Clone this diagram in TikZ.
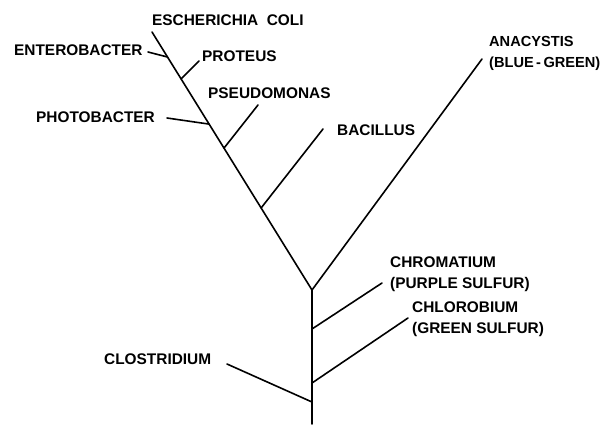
\documentclass[tikz,border=0pt]{standalone}
\usepackage{fontspec}
\setmainfont{Liberation Sans}
\usetikzlibrary{calc}
\begin{document}
\begin{tikzpicture}[x=1pt,y=-1pt,
  branch/.style={line width=1.6pt,line cap=round},
  lbl/.style={font=\bfseries\fontsize{15.4}{21}\selectfont,inner sep=0pt,anchor=west},
  lbl2/.style={font=\bfseries\fontsize{15.4}{21}\selectfont,inner sep=0pt,anchor=north west,align=left}]
\useasboundingbox (0,0) rectangle (611,426);
% skeleton
\coordinate (top) at (152,32);
\coordinate (fork) at (312,290);
\coordinate (root) at (312,424);
\coordinate (anaTip) at (482,59);
% junctions on left limb
\coordinate (jEnt) at ($(top)!0.097!(fork)$);
\coordinate (jPro) at ($(top)!0.182!(fork)$);
\coordinate (jPho) at ($(top)!0.357!(fork)$);
\coordinate (jPse) at ($(top)!0.45!(fork)$);
\coordinate (jBac) at ($(top)!0.682!(fork)$);
% junctions on trunk
\coordinate (jChr) at (312,329);
\coordinate (jChl) at (312,383);
\coordinate (jClo) at (312,402);
% free ends
\coordinate (tEnt) at (148,52);
\coordinate (tPro) at (199,61);
\coordinate (tPho) at (167,118);
\coordinate (tPse) at (258,105);
\coordinate (tBac) at (323,129);
\coordinate (tChr) at (382,283);
\coordinate (tChl) at (408,318);
\coordinate (tClo) at (227,364);
% labels
\node[lbl] (ecoli) at (152,20) {ESCHERICHIA\ \ COLI};
\node[lbl] (ent) at (14,50) {ENTEROBACTER};
\node[lbl] (pro) at (202,56) {PROTEUS};
\node[lbl] (pse) at (208,93) {PSEUDOMONAS};
\node[lbl] (pho) at (36,117) {PHOTOBACTER};
\node[lbl] (bac) at (337,130) {BACILLUS};
\node[lbl] (clo) at (104,359) {CLOSTRIDIUM};
\node[lbl2,font=\bfseries\fontsize{14.6}{20.5}\selectfont] (ana) at (489,36.5) {ANACYSTIS\\(BLUE\,-\,GREEN)};
\node[lbl2] (chr) at (390,256.5) {CHROMATIUM\\(PURPLE SULFUR)};
\node[lbl2] (chl) at (412,301.5) {CHLOROBIUM\\(GREEN SULFUR)};
% branches
\draw[branch] (top) -- (fork) -- (anaTip);
\draw[branch] (fork) -- (root);
\draw[branch] (tEnt) -- (jEnt);
\draw[branch] (jPro) -- (tPro);
\draw[branch] (tPho) -- (jPho);
\draw[branch] (jPse) -- (tPse);
\draw[branch] (jBac) -- (tBac);
\draw[branch] (jChr) -- (tChr);
\draw[branch] (jChl) -- (tChl);
\draw[branch] (tClo) -- (jClo);
\end{tikzpicture}
\end{document}
